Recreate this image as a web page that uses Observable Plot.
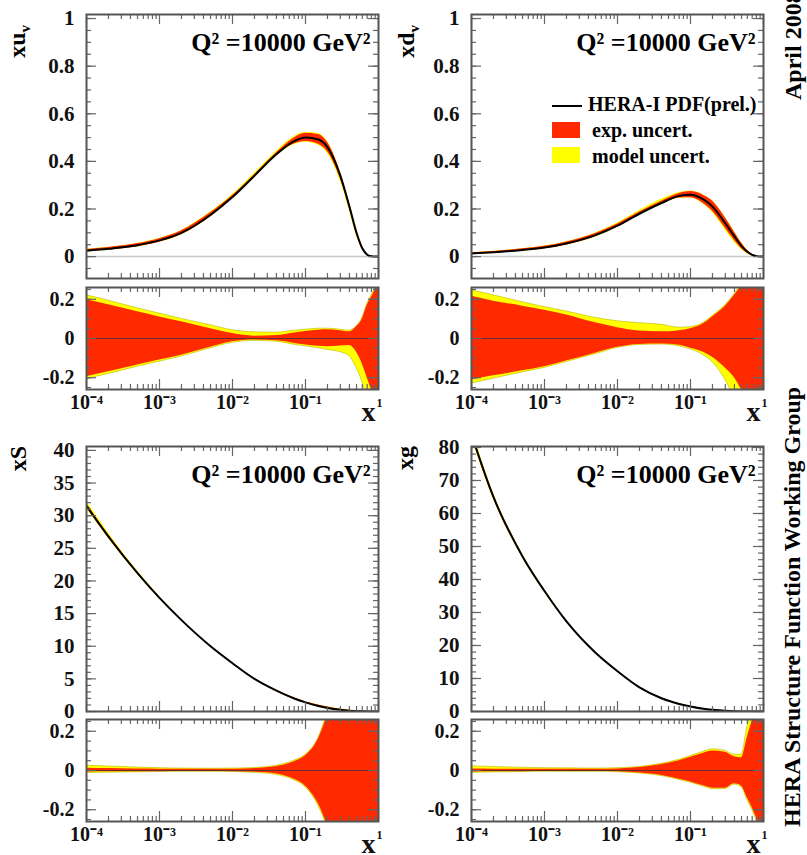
<!DOCTYPE html>
<html><head><meta charset="utf-8">
<script src="https://cdn.jsdelivr.net/npm/d3@7"></script>
<script src="https://cdn.jsdelivr.net/npm/@observablehq/plot@0.6"></script>
<style>
body{margin:0;background:#fff;}
#root{position:relative;width:807px;height:855px;overflow:hidden;font-family:"Liberation Serif",serif;font-weight:bold;}
#root svg{position:absolute;}
</style></head><body><div id="root"></div><script>
// ---------- data ----------
const xs = [1e-4,2e-4,5e-4,1e-3,2e-3,5e-3,1e-2,2e-2,4e-2,7e-2,0.1,0.15,0.2,0.3,0.4,0.5,0.6,0.7,0.8,0.9,1];

// xu_v
const uvCentral = [0.025,0.033,0.048,0.068,0.10,0.175,0.25,0.34,0.43,0.485,0.50,0.492,0.46,0.34,0.21,0.10,0.035,0.008,0.001,0,0];
const uvExpUp = [0.198,0.172,0.136,0.11,0.085,0.05,0.025,0.012,0.015,0.028,0.036,0.042,0.044,0.04,0.034,0.06,0.10,0.17,0.21,0.25,0.30];
const uvExpLo = [-0.195,-0.17,-0.135,-0.11,-0.085,-0.045,-0.017,-0.008,-0.012,-0.025,-0.033,-0.04,-0.042,-0.038,-0.036,-0.07,-0.13,-0.20,-0.26,-0.30,-0.35];
const uvTotUp = [0.22,0.193,0.154,0.127,0.10,0.068,0.042,0.032,0.03,0.04,0.045,0.05,0.05,0.045,0.04,0.062,0.105,0.175,0.22,0.26,0.31];
const uvTotLo = [-0.207,-0.181,-0.144,-0.118,-0.092,-0.05,-0.022,-0.012,-0.016,-0.032,-0.04,-0.05,-0.058,-0.07,-0.09,-0.15,-0.22,-0.30,-0.36,-0.40,-0.45];

// xd_v
const dvCentral = [0.013,0.018,0.028,0.038,0.055,0.09,0.13,0.18,0.225,0.255,0.26,0.24,0.21,0.14,0.085,0.045,0.02,0.007,0.002,0,0];
const dvExpUp = [0.215,0.19,0.165,0.144,0.12,0.08,0.055,0.038,0.034,0.04,0.05,0.075,0.11,0.165,0.22,0.27,0.32,0.36,0.40,0.45,0.50];
const dvExpLo = [-0.212,-0.19,-0.165,-0.144,-0.115,-0.075,-0.045,-0.03,-0.028,-0.035,-0.05,-0.07,-0.095,-0.15,-0.20,-0.26,-0.30,-0.35,-0.40,-0.45,-0.50];
const dvTotUp = [0.246,0.22,0.185,0.16,0.138,0.105,0.088,0.078,0.07,0.055,0.058,0.08,0.115,0.17,0.225,0.28,0.33,0.37,0.40,0.45,0.50];
const dvTotLo = [-0.23,-0.205,-0.173,-0.15,-0.12,-0.08,-0.048,-0.033,-0.031,-0.04,-0.055,-0.085,-0.12,-0.21,-0.30,-0.35,-0.40,-0.45,-0.50,-0.55,-0.60];

// xS
const sCentral = [31.5,26.8,21.2,17.4,14.0,10.0,7.4,5.0,3.2,2.0,1.4,0.85,0.55,0.25,0.12,0.05,0.02,0.008,0.002,0,0];
const sExpUp = [0.012,0.01,0.008,0.007,0.006,0.006,0.007,0.01,0.02,0.045,0.075,0.16,0.28,0.45,0.6,0.7,0.8,0.9,1.0,1.0,1.0];
const sExpLo = [-0.008,-0.007,-0.006,-0.006,-0.005,-0.005,-0.006,-0.009,-0.018,-0.045,-0.08,-0.17,-0.28,-0.45,-0.6,-0.7,-0.8,-0.9,-1.0,-1.0,-1.0];
const sTotUp = [0.025,0.02,0.015,0.012,0.01,0.009,0.01,0.013,0.024,0.05,0.08,0.165,0.29,0.46,0.6,0.7,0.8,0.9,1.0,1.0,1.0];
const sTotLo = [-0.013,-0.011,-0.009,-0.008,-0.007,-0.007,-0.008,-0.012,-0.022,-0.05,-0.085,-0.18,-0.29,-0.46,-0.6,-0.7,-0.8,-0.9,-1.0,-1.0,-1.0];

// xg
const gCentral = [84,65,47,36.5,27.3,17.8,12.2,7.3,4.0,2.3,1.5,0.8,0.5,0.2,0.08,0.03,0.01,0.003,0.001,0,0];
const gExpUp = [0.008,0.007,0.006,0.006,0.006,0.006,0.008,0.015,0.03,0.05,0.067,0.088,0.10,0.093,0.07,0.065,0.17,0.25,0.30,0.35,0.40];
const gExpLo = [-0.008,-0.007,-0.006,-0.005,-0.005,-0.005,-0.007,-0.013,-0.025,-0.045,-0.058,-0.078,-0.09,-0.09,-0.068,-0.08,-0.14,-0.19,-0.24,-0.28,-0.32];
const gTotUp = [0.022,0.018,0.014,0.012,0.011,0.01,0.012,0.018,0.034,0.055,0.073,0.095,0.108,0.10,0.08,0.08,0.22,0.30,0.35,0.40,0.45];
const gTotLo = [-0.012,-0.01,-0.008,-0.007,-0.007,-0.007,-0.009,-0.015,-0.028,-0.048,-0.062,-0.082,-0.095,-0.095,-0.072,-0.085,-0.15,-0.20,-0.25,-0.29,-0.33];

// axis ticks and labels
const xMajor = [1e-4,1e-3,1e-2,1e-1,1];
const xMinor = [-4,-3,-2,-1].flatMap(k => [2,3,4,5,6,7,8,9].map(m => m * Math.pow(10,k)));
const xLabelTicks = [1e-4,1e-3,1e-2,1e-1];
const xTickText = ["10\u207B\u2074","10\u207B\u00B3","10\u207B\u00B2","10\u207B\u00B9"];
const valTicks = [0,0.2,0.4,0.6,0.8,1];
const sTicks = [0,5,10,15,20,25,30,35,40];
const gTicks = [0,10,20,30,40,50,60,70,80];
const ratioTicks = [-0.2,0,0.2];
const q2Label = "Q\u00B2 =10000 GeV\u00B2";

// ---------- helpers ----------
const W = 292;
const root = document.getElementById("root");
const FONT = "Liberation Serif";
const RED = "#ff2a00", YEL = "#ffff00", TICK = "#666";

function rows(c, eU, eL, tU, tL) {
  return xs.map((x, i) => ({
    x, c: c[i],
    eU: c[i] * (1 + eU[i]), eL: c[i] * (1 + eL[i]),
    tU: c[i] * (1 + tU[i]), tL: c[i] * (1 + tL[i]),
    rEU: eU[i], rEL: eL[i], rTU: tU[i], rTL: tL[i]
  }));
}
function range(a, b, s) { const out = []; for (let v = a; v <= b + 1e-9; v += s) out.push(+v.toFixed(6)); return out; }

function tickMarks(innerH, yDomain, yMaj, yMinStep) {
  const c = {stroke: TICK, strokeWidth: 1.2};
  const yMin = range(Math.ceil(yDomain[0] / yMinStep) * yMinStep, yDomain[1], yMinStep).filter(v => v >= yDomain[0] && v <= yDomain[1]);
  return [
    Plot.ruleY(yMaj, {...c, insetRight: W - 10}),
    Plot.ruleY(yMaj, {...c, insetLeft: W - 10}),
    Plot.ruleY(yMin, {...c, insetRight: W - 5}),
    Plot.ruleY(yMin, {...c, insetLeft: W - 5}),
    Plot.ruleX(xMajor, {...c, insetBottom: innerH - 10}),
    Plot.ruleX(xMajor, {...c, insetTop: innerH - 10}),
    Plot.ruleX(xMinor, {...c, insetBottom: innerH - 5}),
    Plot.ruleX(xMinor, {...c, insetTop: innerH - 5})
  ];
}

function yAxis(ticks, size) {
  return Plot.axisY({ticks, label: null, tickSize: 0, tickPadding: 12, fontSize: size, fontWeight: "bold", fontFamily: FONT, fill: "#111",
    tickFormat: d => String(d)});
}

function place(svg, left, top) {
  svg.style.left = left + "px"; svg.style.top = top + "px";
  root.appendChild(svg);
}

function mainPanel(data, frameLeft, frameTop, innerH, yDomain, ticks, minorStep, zeroLine) {
  const ML = 80, MR = 6, MT = 6, MB = 6;
  const svg = Plot.plot({
    width: ML + W + MR, height: MT + innerH + MB,
    marginLeft: ML, marginRight: MR, marginTop: MT, marginBottom: MB,
    style: {background: "transparent", overflow: "visible", fontFamily: FONT},
    x: {type: "log", domain: [1e-4, 1], axis: null},
    y: {domain: yDomain, axis: null},
    marks: [
      zeroLine ? Plot.ruleY([0], {stroke: "#c8c8c8", strokeWidth: 1.5}) : null,
      Plot.areaY(data, {x: "x", y1: "tL", y2: "tU", fill: YEL, curve: "monotone-x", clip: true}),
      Plot.areaY(data, {x: "x", y1: "eL", y2: "eU", fill: RED, curve: "monotone-x", clip: true}),
      Plot.line(data, {x: "x", y: "c", stroke: "#000", strokeWidth: 2, curve: "monotone-x", clip: true}),
      ...tickMarks(innerH, yDomain, ticks, minorStep),
      Plot.frame({stroke: "#555", strokeWidth: 2}),
      yAxis(ticks, 21),
      Plot.text([q2Label], {text: d => d, frameAnchor: "top-right", dx: -8, dy: 36, textAnchor: "end", lineAnchor: "bottom",
        fontSize: 26, fontWeight: "bold", fontFamily: FONT, fill: "#000"})
    ]
  });
  place(svg, frameLeft - ML, frameTop - MT);
}

function ratioPanel(data, frameLeft, frameTop) {
  const innerH = 102, yDomain = [-0.26, 0.26];
  const ML = 80, MR = 10, MT = 6, MB = 46;
  const svg = Plot.plot({
    width: ML + W + MR, height: MT + innerH + MB,
    marginLeft: ML, marginRight: MR, marginTop: MT, marginBottom: MB,
    style: {background: "transparent", overflow: "visible", fontFamily: FONT},
    x: {type: "log", domain: [1e-4, 1], axis: null},
    y: {domain: yDomain, axis: null},
    marks: [
      Plot.areaY(data, {x: "x", y1: "rTL", y2: "rTU", fill: YEL, stroke: "#b8b800", strokeWidth: 0.6, curve: "monotone-x", clip: true}),
      Plot.areaY(data, {x: "x", y1: "rEL", y2: "rEU", fill: RED, curve: "monotone-x", clip: true}),
      Plot.ruleY([0], {stroke: "#333", strokeWidth: 0.8}),
      ...tickMarks(innerH, yDomain, ratioTicks, 0.05),
      Plot.frame({stroke: "#555", strokeWidth: 2}),
      yAxis(ratioTicks, 20),
      Plot.axisX({ticks: xLabelTicks, label: null, tickSize: 0, tickPadding: 5, fontSize: 20, fontWeight: "bold", fontFamily: FONT, fill: "#111",
        tickFormat: d => xTickText[xLabelTicks.indexOf(d)]}),
      Plot.text([1], {x: d => d, text: () => "1", frameAnchor: "bottom", dy: 17, dx: 1, lineAnchor: "bottom",
        fontSize: 12, fontWeight: "bold", fontFamily: FONT, fill: "#111"}),
      Plot.text(["x"], {text: d => d, frameAnchor: "bottom-right", dx: -3, dy: 31, textAnchor: "end", lineAnchor: "bottom",
        fontSize: 28, fontWeight: "bold", fontFamily: FONT, fill: "#111"})
    ]
  });
  place(svg, frameLeft - ML, frameTop - MT);
}

// ---------- panels ----------
const uv = rows(uvCentral, uvExpUp, uvExpLo, uvTotUp, uvTotLo);
const dv = rows(dvCentral, dvExpUp, dvExpLo, dvTotUp, dvTotLo);
const sea = rows(sCentral, sExpUp, sExpLo, sTotUp, sTotLo);
const glu = rows(gCentral, gExpUp, gExpLo, gTotUp, gTotLo);

mainPanel(uv, 86, 14, 264, [-0.092, 1.017], valTicks, 0.05, true);
ratioPanel(uv, 86, 287);
mainPanel(dv, 471, 14, 264, [-0.092, 1.017], valTicks, 0.05, true);
ratioPanel(dv, 471, 287);
mainPanel(sea, 86, 446, 265, [0, 40.6], sTicks, 1, false);
ratioPanel(sea, 86, 719);
mainPanel(glu, 471, 446, 265, [0, 80.3], gTicks, 2, false);
ratioPanel(glu, 471, 719);

// ---------- annotations: axis titles, legend, side notes ----------
const NS = "http://www.w3.org/2000/svg";
const ov = document.createElementNS(NS, "svg");
ov.setAttribute("width", 807); ov.setAttribute("height", 855);
ov.style.left = "0px"; ov.style.top = "0px"; ov.style.pointerEvents = "none";
ov.setAttribute("font-family", FONT); ov.setAttribute("font-weight", "bold");
ov.innerHTML = `
  <text transform="translate(25,25) rotate(-90)" text-anchor="end" font-size="24">xu<tspan font-size="15" dy="5">v</tspan></text>
  <text transform="translate(414,25) rotate(-90)" text-anchor="end" font-size="24">xd<tspan font-size="15" dy="5">v</tspan></text>
  <text transform="translate(26,446) rotate(-90)" text-anchor="end" font-size="24">xS</text>
  <text transform="translate(413,446) rotate(-90)" text-anchor="end" font-size="24">xg</text>
  <line x1="552" x2="582" y1="106" y2="106" stroke="#000" stroke-width="2"/>
  <text x="588" y="111" font-size="20">HERA-I PDF(prel.)</text>
  <rect x="552" y="122" width="28" height="16" fill="${RED}"/>
  <text x="592" y="137" font-size="20">exp. uncert.</text>
  <rect x="552" y="147" width="28" height="16" fill="${YEL}"/>
  <text x="592" y="163" font-size="20">model uncert.</text>
  <text transform="translate(801,100) rotate(-90)" font-size="24">April 2008</text>
  <text transform="translate(800,827) rotate(-90)" font-size="24">HERA Structure Function Working Group</text>
`;
root.appendChild(ov);
</script></body></html>
